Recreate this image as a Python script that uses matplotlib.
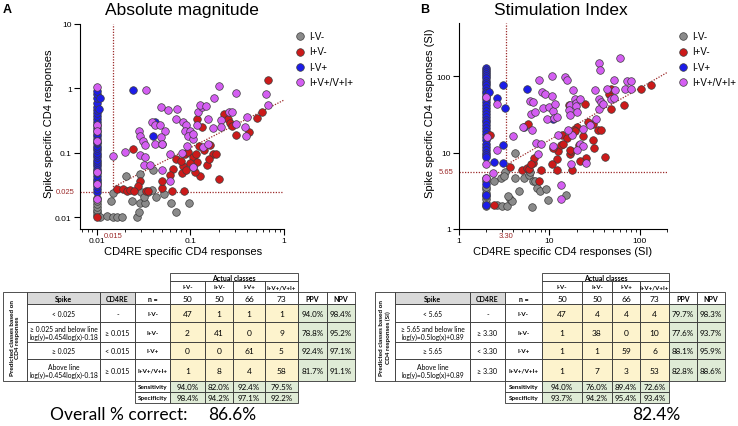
import numpy as np
import matplotlib.pyplot as plt
import matplotlib.transforms as mtransforms
from matplotlib.patches import Rectangle
from matplotlib.ticker import LogLocator, NullLocator, NullFormatter

plt.rcParams['font.family'] = ['Liberation Sans', 'DejaVu Sans']

# ---------------- data ----------------
classes = ['I-V-', 'I+V-', 'I-V+', 'I+V+/V+I+']
class_colors = ['#8a8a8a', '#cc1a1a', '#1c1ce8', '#d45ef2']

# panel A: absolute magnitude (CD4RE, Spike)
abs_grey = [(0.01, 0.011), (0.01, 0.012), (0.01, 0.013), (0.01, 0.0145), (0.01, 0.016),
            (0.01, 0.018), (0.01, 0.020), (0.0109, 0.010), (0.013, 0.0106), (0.0148, 0.010),
            (0.0164, 0.010), (0.0185, 0.0103), (0.0142, 0.018), (0.0151, 0.024), (0.0206, 0.0445),
            (0.0236, 0.018), (0.0272, 0.010), (0.028, 0.0122), (0.029, 0.0165), (0.030, 0.0245),
            (0.0328, 0.017), (0.0356, 0.025), (0.029, 0.047), (0.0403, 0.054), (0.043, 0.021),
            (0.0528, 0.023), (0.0616, 0.017), (0.071, 0.012), (0.0976, 0.0165), (0.0386, 0.027),
            (0.032, 0.021)]
abs_red = [(0.010, 0.010), (0.0242, 0.115), (0.029, 0.037), (0.0274, 0.031), (0.0166, 0.0276),
           (0.0189, 0.028), (0.0209, 0.026), (0.0227, 0.027), (0.0249, 0.026), (0.0336, 0.026),
           (0.0356, 0.026), (0.0502, 0.029), (0.063, 0.026), (0.086, 0.026), (0.050, 0.037),
           (0.066, 0.056), (0.071, 0.081), (0.083, 0.063), (0.082, 0.049), (0.0875, 0.096),
           (0.095, 0.102), (0.107, 0.085), (0.117, 0.073), (0.125, 0.127), (0.149, 0.066),
           (0.164, 0.135), (0.127, 0.044), (0.113, 0.050), (0.106, 0.060), (0.175, 0.097),
           (0.190, 0.097), (0.200, 0.040), (0.228, 0.40), (0.254, 0.34), (0.265, 0.29),
           (0.31, 0.19), (0.42, 0.21), (0.52, 0.345), (0.58, 0.43), (0.68, 1.33),
           (0.133, 0.25), (0.117, 0.34), (0.060, 0.045), (0.080, 0.075), (0.140, 0.110),
           (0.160, 0.080), (0.115, 0.095), (0.100, 0.070), (0.090, 0.055), (0.280, 0.26)]
abs_blue = [(0.01, 0.025), (0.01, 0.028), (0.01, 0.031), (0.01, 0.034), (0.01, 0.037),
            (0.01, 0.040), (0.01, 0.044), (0.01, 0.048), (0.01, 0.052), (0.01, 0.057),
            (0.01, 0.062), (0.01, 0.067), (0.01, 0.072), (0.01, 0.078), (0.01, 0.085),
            (0.01, 0.092), (0.01, 0.100), (0.01, 0.110), (0.01, 0.120), (0.01, 0.130),
            (0.01, 0.140), (0.01, 0.150), (0.01, 0.165), (0.01, 0.180), (0.01, 0.200),
            (0.01, 0.220), (0.01, 0.240), (0.01, 0.270), (0.01, 0.300), (0.01, 0.330),
            (0.01, 0.370), (0.01, 0.410), (0.01, 0.460), (0.01, 0.520), (0.01, 0.600),
            (0.01, 0.700), (0.01, 0.820), (0.01, 0.900), (0.0107, 0.48), (0.0108, 0.70),
            (0.0242, 0.96), (0.0396, 0.186), (0.042, 0.30), (0.050, 0.138)]
abs_pink = [(0.01, 1.05), (0.01, 0.27), (0.01, 0.22), (0.01, 0.155), (0.01, 0.050),
            (0.01, 0.033), (0.01, 0.019), (0.034, 0.93), (0.0486, 0.51), (0.058, 0.466),
            (0.0285, 0.22), (0.029, 0.18), (0.031, 0.155), (0.033, 0.133), (0.039, 0.30),
            (0.042, 0.27), (0.047, 0.267), (0.053, 0.215), (0.049, 0.175), (0.042, 0.138),
            (0.050, 0.137), (0.029, 0.093), (0.0328, 0.086), (0.032, 0.064), (0.037, 0.064),
            (0.050, 0.055), (0.061, 0.037), (0.061, 0.096), (0.020, 0.105), (0.015, 0.091),
            (0.072, 0.48), (0.070, 0.33), (0.083, 0.30), (0.091, 0.27), (0.0875, 0.22),
            (0.100, 0.215), (0.095, 0.186), (0.106, 0.165), (0.119, 0.267), (0.121, 0.43),
            (0.132, 0.51), (0.127, 0.56), (0.147, 0.53), (0.156, 0.34), (0.108, 0.20),
            (0.081, 0.10), (0.092, 0.13), (0.138, 0.122), (0.156, 0.138), (0.107, 0.060),
            (0.18, 0.71), (0.20, 1.09), (0.21, 0.32), (0.215, 0.25), (0.176, 0.245),
            (0.26, 0.43), (0.28, 0.43), (0.31, 0.86), (0.31, 0.28), (0.38, 0.25),
            (0.40, 0.36), (0.39, 0.186), (0.64, 0.83), (0.68, 0.56)]

# panel B: stimulation index
si_grey = [(2.0, 2.0), (2.0, 2.2), (2.0, 2.45), (2.0, 2.7), (2.0, 3.0), (2.0, 3.3),
           (2.0, 3.6), (2.0, 4.2), (2.0, 4.6), (2.6, 2.05), (3.0, 2.0), (3.37, 2.0),
           (2.9, 4.6), (3.66, 2.5), (3.9, 2.3), (3.5, 2.7), (2.43, 4.3), (3.23, 5.6),
           (3.14, 5.0), (4.15, 4.6), (4.6, 3.1), (5.2, 4.6), (4.2, 9.8), (6.0, 5.1),
           (6.6, 4.3), (7.0, 4.2), (7.3, 3.4), (7.8, 3.1), (9.1, 3.3), (9.7, 2.4),
           (15.2, 2.8), (6.5, 1.95), (6.1, 5.6)]
si_red = [(2.43, 2.05), (2.2, 17), (3.66, 6.5), (4.93, 6.0), (5.6, 6.3), (5.9, 6.1),
          (6.6, 7.4), (6.8, 8.5), (5.8, 24), (7.7, 4.2), (8.0, 6.0), (12, 6.0), (12, 8.3),
          (12.5, 10.6), (13.6, 12.7), (13.9, 16.8), (10.8, 7.0), (16.8, 9.5), (17.2, 10.4),
          (15.7, 15.5), (18, 6.0), (20, 22), (18.7, 20), (23.7, 16.3), (21.5, 12.7),
          (25.7, 8.4), (16.5, 41.7), (24.6, 44), (30.5, 14.5), (31.4, 11.5), (30.5, 24),
          (34.6, 20), (37.6, 20), (41.6, 8.8), (46, 59.3), (48.5, 69), (47.9, 37.7),
          (66.9, 41.7), (104, 69), (133, 78), (14, 13), (11, 11.5), (19, 19), (27, 25),
          (22, 7.7), (6.2, 7.2), (17, 10.8)]
si_blue = [(2.0, 130), (2.0, 122), (2.0, 115), (2.0, 108), (2.0, 101), (2.0, 95), (2.0, 88),
           (2.0, 82), (2.0, 76), (2.0, 70), (2.0, 65), (2.0, 60), (2.0, 55), (2.0, 50),
           (2.0, 46), (2.0, 42), (2.0, 38), (2.0, 35), (2.0, 32), (2.0, 29), (2.0, 27),
           (2.0, 25), (2.0, 23), (2.0, 21), (2.0, 19), (2.0, 17.5), (2.0, 16), (2.0, 14.5),
           (2.0, 13), (2.0, 12), (2.0, 11), (2.0, 10), (2.0, 9.3), (2.0, 8.7), (2.0, 3.9),
           (2.0, 2.8), (2.0, 2.05), (2.16, 62), (2.6, 52), (3.04, 76), (3.23, 38),
           (3.04, 12.5), (2.43, 7.5), (3.04, 7.4), (5.7, 69), (5.3, 21.7), (11, 28)]
si_pink = [(2.0, 53), (2.05, 16), (2.0, 7), (2.0, 4.7), (2.35, 5.4), (2.6, 44), (2.6, 10.7),
           (4.0, 16.3), (5.1, 21.7), (6.1, 47.6), (6.6, 46), (6.3, 32.5), (6.9, 34), (6.5, 20),
           (7.2, 13.4), (8.0, 12.8), (7.4, 9.7), (7.6, 89), (8.2, 62), (8.5, 38.8), (8.9, 59),
           (9.3, 27.8), (9.9, 39.5), (10.6, 101), (10.6, 54.7), (11, 35), (11.2, 28.5),
           (11.5, 43.8), (11, 12.2), (12, 29.2), (12.3, 16.8), (14.8, 98), (15.5, 89),
           (16.8, 41.7), (16.5, 36), (16.8, 31), (18.3, 65.5), (19, 50), (19.6, 44.7),
           (19.6, 41), (20, 34), (17.6, 17.2), (21.6, 51), (23.7, 20.7), (22, 13),
           (23.7, 12.3), (25.7, 7.4), (28, 23), (31.7, 67), (32.5, 27.9), (35.5, 51),
           (35.5, 37.7), (35.5, 149), (36, 122), (36.8, 46), (39, 43.8), (42.9, 69),
           (48.5, 51), (52, 51.9), (53.7, 67), (52, 89), (61, 174), (69, 67.6), (73, 87),
           (80.8, 87), (80.8, 67.6), (17.3, 7.2), (13.3, 3.8), (13.3, 2.5), (16, 20), (20, 11)]

# cut-offs and the dividing line as drawn (log10 slope, intercept)
abs_cut_x, abs_cut_y = 0.015, 0.025
abs_line = (0.74, -0.18)
si_cut_x, si_cut_y = 3.30, 5.65
si_line = (0.68, 0.485)

# tables
abs_n = [50, 50, 66, 73]
abs_spike = ['< 0.025', '\u2265 0.025 and below line\nlog(y)=0.454log(x)-0.18', '\u2265 0.025',
             'Above line\nlog(y)=0.454log(x)-0.18']
abs_cd4re = ['-', '\u2265 0.015', '< 0.015', '\u2265 0.015']
abs_counts = [[47, 1, 1, 1], [2, 41, 0, 9], [0, 0, 61, 5], [1, 8, 4, 58]]
abs_ppv = ['94.0%', '78.8%', '92.4%', '81.7%']
abs_npv = ['98.4%', '95.2%', '97.1%', '91.1%']
abs_sens = ['94.0%', '82.0%', '92.4%', '79.5%']
abs_spec = ['98.4%', '94.2%', '97.1%', '92.2%']
abs_overall = '86.6%'

si_n = [50, 50, 66, 73]
si_spike = ['< 5.65', '\u2265 5.65 and below line\nlog(y)=0.5log(x)+0.89', '\u2265 5.65',
            'Above line\nlog(y)=0.5log(x)+0.89']
si_cd4re = ['-', '\u2265 3.30', '< 3.30', '\u2265 3.30']
si_counts = [[47, 4, 4, 4], [1, 38, 0, 10], [1, 1, 59, 6], [1, 7, 3, 53]]
si_ppv = ['79.7%', '77.6%', '88.1%', '82.8%']
si_npv = ['98.3%', '93.7%', '95.9%', '88.6%']
si_sens = ['94.0%', '76.0%', '89.4%', '72.6%']
si_spec = ['93.7%', '94.2%', '95.4%', '93.4%']
si_overall = '82.4%'

# ---------------- figure ----------------
W, H = 738, 427
fig = plt.figure(figsize=(W / 100, H / 100), dpi=100)
RED = '#9c2a2a'


def px_axes(l, t, r, b):
    return fig.add_axes([l / W, 1 - b / H, (r - l) / W, (b - t) / H])


def scatter_panel(box, groups, xlim, ylim, xt, xtl, yt, ytl, cut_x, cut_y, line,
                  cut_xl, cut_yl, legend_xy):
    ax = px_axes(*box)
    ax.set_xscale('log')
    ax.set_yscale('log')
    handles = [None] * 4
    for k in [0, 2, 1, 3]:  # blue sits under red and pink
        pts = np.array(groups[k])
        handles[k] = ax.scatter(pts[:, 0], pts[:, 1], s=30, c=class_colors[k],
                                edgecolors='#3c3c3c', linewidths=0.5, zorder=3,
                                label=classes[k], clip_on=False)
    ls = (0, (1, 1.2))
    ax.axhline(cut_y, color=RED, ls=ls, lw=0.9, zorder=2)
    ax.plot([cut_x, cut_x], [cut_y, ylim[1]], color=RED, ls=ls, lw=0.9, zorder=2)
    lx = np.array([cut_x, xlim[1]])
    ax.plot(lx, 10 ** (line[1] + line[0] * np.log10(lx)), color=RED, ls=ls, lw=0.9, zorder=2)
    ax.set_xlim(*xlim)
    ax.set_ylim(*ylim)
    for s in ['top', 'right']:
        ax.spines[s].set_visible(False)
    for s in ['left', 'bottom']:
        ax.spines[s].set_linewidth(0.8)
    ax.set_xticks(xt)
    ax.set_xticklabels(xtl)
    ax.set_yticks(yt)
    ax.set_yticklabels(ytl)
    ax.xaxis.set_minor_locator(LogLocator(subs=range(2, 10)))
    ax.xaxis.set_minor_formatter(NullFormatter())
    ax.yaxis.set_minor_locator(NullLocator())
    ax.tick_params(which='major', length=4, width=0.8, labelsize=6, pad=2)
    ax.tick_params(which='minor', length=2.5, width=0.6)
    tb = mtransforms.blended_transform_factory(ax.transAxes, ax.transData)
    ax.text(-0.028, cut_y, cut_yl, transform=tb, color=RED, fontsize=5.5, ha='right', va='center')
    tb2 = mtransforms.blended_transform_factory(ax.transData, ax.transAxes)
    ax.text(cut_x, -0.033, cut_xl, transform=tb2, color=RED, fontsize=5.5, ha='center', va='center')
    ax.legend(handles, classes, loc='upper left',
              bbox_to_anchor=(legend_xy[0] / W, 1 - legend_xy[1] / H),
              bbox_transform=fig.transFigure, frameon=False, fontsize=7, borderpad=0,
              handlelength=1.0, handletextpad=0.5, labelspacing=0.55, scatterpoints=1)
    return ax


scatter_panel((80, 25, 284, 230), [abs_grey, abs_red, abs_blue, abs_pink],
              (0.00664, 1), (0.0066, 10), [0.01, 0.1, 1], ['0.01', '0.1', '1'],
              [0.01, 0.1, 1, 10], ['0.01', '0.1', '1', '10'],
              abs_cut_x, abs_cut_y, abs_line, '0.015', '0.025', (290, 27))
scatter_panel((459, 24, 667, 230), [si_grey, si_red, si_blue, si_pink],
              (1, 200), (1, 500), [1, 10, 100], ['1', '10', '100'],
              [1, 10, 100], ['1', '10', '100'],
              si_cut_x, si_cut_y, si_line, '3.30', '5.65', (673, 27))

# titles and axis labels in pixel positions
fig.text(182 / W, 1 - 15 / H, 'Absolute magnitude', fontsize=12.5, ha='center', va='baseline')
fig.text(561 / W, 1 - 15 / H, 'Stimulation Index', fontsize=12.5, ha='center', va='baseline')
fig.text(3 / W, 1 - 13 / H, 'A', fontsize=9, fontweight='bold', va='baseline')
fig.text(420 / W, 1 - 13 / H, 'B', fontsize=9, fontweight='bold', va='baseline')
fig.text(49 / W, 1 - 124 / H, 'Spike specific CD4 responses', fontsize=8, rotation=90,
         ha='center', va='center')
fig.text(430 / W, 1 - 113 / H, 'Spike specific CD4 responses (SI)', fontsize=8, rotation=90,
         ha='center', va='center')
fig.text(183 / W, 1 - 252 / H, 'CD4RE specific CD4 responses', fontsize=8, ha='center', va='center')
fig.text(563 / W, 1 - 252 / H, 'CD4RE specific CD4 responses (SI)', fontsize=8, ha='center',
         va='center')

# ---------------- tables (drawn on a pixel overlay) ----------------
ov = fig.add_axes([0, 0, 1, 1])
ov.set_xlim(0, W)
ov.set_ylim(H, 0)
ov.axis('off')
TF = ['Lato', 'DejaVu Sans']
YEL, GRN, GRY = '#fdf3cd', '#dfebd6', '#d9d9d9'
ye = [274, 282, 293, 305, 323, 343, 360, 382, 393, 404]


def draw_table(xe, spike, cd4re, counts, ppv, npv, sens, spec, n_tot, side):
    def cell(c0, c1, r0, r1, fc='white', text='', **kw):
        ov.add_patch(Rectangle((xe[c0], ye[r0]), xe[c1] - xe[c0], ye[r1] - ye[r0],
                               facecolor=fc, edgecolor='#333333', lw=0.6))
        if text:
            ov.text((xe[c0] + xe[c1]) / 2, (ye[r0] + ye[r1]) / 2 + 0.3, text, ha='center',
                    va='center', family=TF, **kw)

    cell(4, 8, 0, 1, text='Actual classes', fontsize=5, fontweight='bold')
    for k in range(4):
        cell(4 + k, 5 + k, 1, 2, text=classes[k], fontsize=4.4, fontweight='bold')
        cell(4 + k, 5 + k, 2, 3, text=str(n_tot[k]), fontsize=6)
    cell(0, 1, 2, 7, text=side, fontsize=4.6, fontweight='bold', rotation=90, linespacing=1.2)
    cell(1, 2, 2, 3, GRY, 'Spike', fontsize=5, fontweight='bold')
    cell(2, 3, 2, 3, GRY, 'CD4RE', fontsize=5, fontweight='bold')
    cell(3, 4, 2, 3, text='n =', fontsize=5, fontweight='bold')
    cell(8, 9, 2, 3, text='PPV', fontsize=5, fontweight='bold')
    cell(9, 10, 2, 3, text='NPV', fontsize=5, fontweight='bold')
    for i in range(4):
        r = 3 + i
        cell(1, 2, r, r + 1, text=spike[i], fontsize=4.85, linespacing=1.15)
        cell(2, 3, r, r + 1, text=cd4re[i], fontsize=5.1)
        cell(3, 4, r, r + 1, text=classes[i], fontsize=4.6, fontweight='bold')
        for k in range(4):
            cell(4 + k, 5 + k, r, r + 1, YEL, str(counts[i][k]), fontsize=6)
        cell(8, 9, r, r + 1, GRN, ppv[i], fontsize=5.8)
        cell(9, 10, r, r + 1, GRN, npv[i], fontsize=5.8)
    cell(3, 4, 7, 8, text='Sensitivity', fontsize=4.6, fontweight='bold')
    cell(3, 4, 8, 9, text='Specificity', fontsize=4.6, fontweight='bold')
    for k in range(4):
        cell(4 + k, 5 + k, 7, 8, GRN, sens[k], fontsize=5.8)
        cell(4 + k, 5 + k, 8, 9, GRN, spec[k], fontsize=5.8)


draw_table([3, 27, 100, 135, 170, 205, 233, 265, 298, 327, 355],
           abs_spike, abs_cd4re, abs_counts, abs_ppv, abs_npv, abs_sens, abs_spec, abs_n,
           'Predicted classes based on\nCD4 responses')
draw_table([375, 395, 470, 505, 542, 582, 612, 640, 669, 697, 725],
           si_spike, si_cd4re, si_counts, si_ppv, si_npv, si_sens, si_spec, si_n,
           'Predicted classes based on\nCD4 responses (SI)')

ov.text(119, 415, 'Overall % correct:', fontsize=12.5, family=TF, ha='center', va='center')
ov.text(232, 415, abs_overall, fontsize=12.5, family=TF, ha='center', va='center')
ov.text(656, 415, si_overall, fontsize=12.5, family=TF, ha='center', va='center')

fig.savefig('out.png', dpi=100)
